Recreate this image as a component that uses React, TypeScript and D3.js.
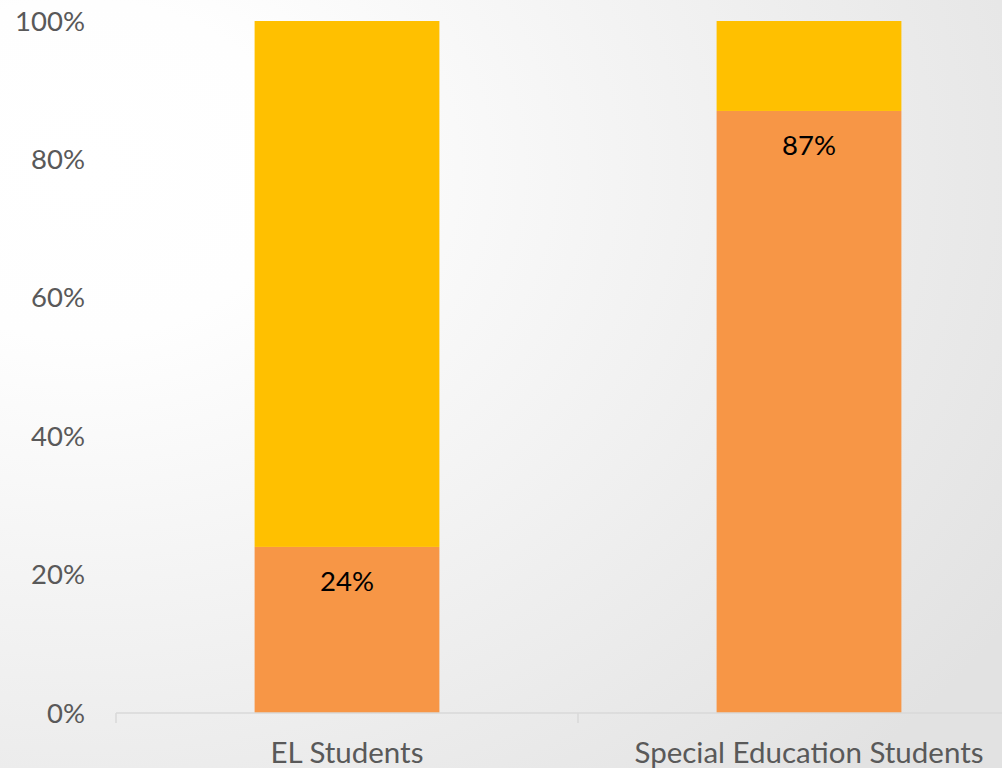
import React from "react";
import * as d3 from "d3";

const categories = ["EL Students", "Special Education Students"];
const seriesLower = [0.24, 0.87];
const seriesUpper = [0.76, 0.13];
const dataLabels = ["24%", "87%"];
const yTicks = [0, 0.2, 0.4, 0.6, 0.8, 1.0];

const W = 1002;
const H = 768;

export default function App() {
  const x = d3.scaleBand<string>().domain(categories).range([116, 1040]).paddingInner(0.6).paddingOuter(0.3);
  const y = d3.scaleLinear().domain([0, 1]).range([713, 21]);
  const fmt = d3.format(".0%");
  const stack = d3.stack<any>().keys(["lower", "upper"])(
    categories.map((c, i) => ({ cat: c, lower: seriesLower[i], upper: seriesUpper[i] }))
  );
  const colors = ["#F79646", "#FFC000"];
  const step = x.step();
  const tickXs = categories.map((c, i) => 116 + i * step);
  tickXs.push(116 + categories.length * step);
  const font = "Lato, 'Open Sans', sans-serif";
  return (
    <svg width={W} height={H} style={{ position: "absolute", left: 0, top: 0 }}>
      <defs>
        <radialGradient id="bg" cx="0.08" cy="0.22" r="1.1" gradientUnits="objectBoundingBox">
          <stop offset="0" stopColor="#ffffff" />
          <stop offset="0.2" stopColor="#fefefe" />
          <stop offset="1" stopColor="#e2e2e2" />
        </radialGradient>
      </defs>
      <rect x={0} y={0} width={W} height={H} fill="url(#bg)" />
      {stack.map((layer, li) =>
        layer.map((d, i) => (
          <rect
            key={`${li}-${i}`}
            x={x(categories[i])}
            width={x.bandwidth()}
            y={y(d[1])}
            height={y(d[0]) - y(d[1])}
            fill={colors[li]}
          />
        ))
      )}
      <line x1={116} x2={1040} y1={y(0)} y2={y(0)} stroke="#d9d9d9" strokeWidth={1.5} />
      {tickXs.map((tx, i) => (
        <line key={i} x1={tx} x2={tx} y1={y(0)} y2={y(0) + 10} stroke="#d9d9d9" strokeWidth={1.5} />
      ))}
      {yTicks.map((t) => (
        <text key={t} x={85} y={y(t)} dy="0.35em" textAnchor="end" fontFamily={font} fontSize={27.5} fill="#595959">
          {fmt(t)}
        </text>
      ))}
      {categories.map((c) => (
        <text
          key={c}
          x={(x(c) as number) + x.bandwidth() / 2}
          y={763}
          textAnchor="middle"
          fontFamily={font}
          fontSize={29.5}
          fill="#595959"
        >
          {c}
        </text>
      ))}
      {categories.map((c, i) => (
        <text
          key={c + "l"}
          x={(x(c) as number) + x.bandwidth() / 2}
          y={y(seriesLower[i]) + 34}
          dy="0.35em"
          textAnchor="middle"
          fontFamily={font}
          fontSize={27.5}
          fill="#000000"
        >
          {dataLabels[i]}
        </text>
      ))}
    </svg>
  );
}
